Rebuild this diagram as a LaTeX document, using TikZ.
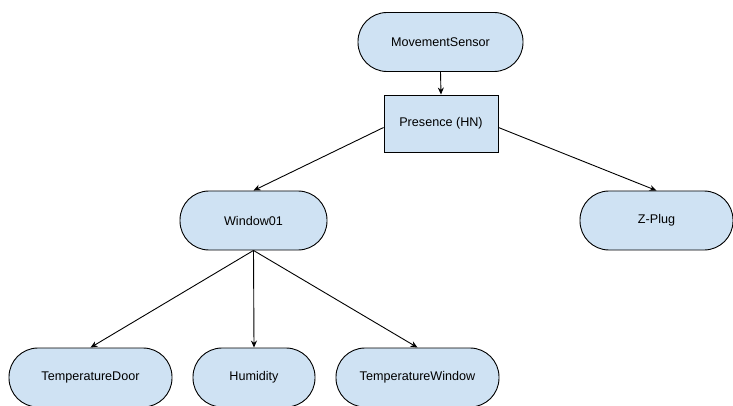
\documentclass[tikz,border=0pt]{standalone}
\usepackage{fontspec}
\setmainfont{Liberation Sans}
\usetikzlibrary{arrows.meta}
\definecolor{nodefill}{HTML}{CFE2F3}
\begin{document}
\begin{tikzpicture}[x=1pt,y=-1pt,
  pill/.style={draw=black, line width=0.9pt, fill=nodefill, rounded corners=29pt,
    minimum height=59pt, inner sep=0pt, font=\fontsize{12.6}{14}\selectfont},
  boxnode/.style={draw=black, line width=0.9pt, fill=nodefill,
    minimum width=114pt, minimum height=57pt, inner sep=0pt, font=\fontsize{12.6}{14}\selectfont},
  conn/.style={line width=0.9pt, -{Stealth[length=7pt,width=6pt]}}]
\useasboundingbox (0,0) rectangle (733,406);
\clip (0,0) rectangle (733,406);
\node[pill, minimum width=165pt] (ms) at (440.5,42) {MovementSensor};
\node[boxnode] (pr) at (441,123.5) {Presence (HN)};
\node[pill, minimum width=147pt] (w) at (253.5,220.5) {Window01};
\node[pill, minimum width=153pt] (z) at (656.5,220.5) {Z-Plug};
\node[pill, minimum width=163pt] (td) at (90.5,377.5) {TemperatureDoor};
\node[pill, minimum width=122pt] (hu) at (254,377.5) {Humidity};
\node[pill, minimum width=163pt] (tw) at (417.5,377.5) {TemperatureWindow};
\draw[conn] (ms.south) -- (pr.north);
\draw[conn] (pr.west) ++(0,4) -- (w.north);
\draw[conn] (pr.east) ++(0,4) -- (z.north);
\draw[conn] (w.south) -- (td.north);
\draw[conn] (w.south) -- (hu.north);
\draw[conn] (w.south) -- (tw.north);
\end{tikzpicture}
\end{document}
